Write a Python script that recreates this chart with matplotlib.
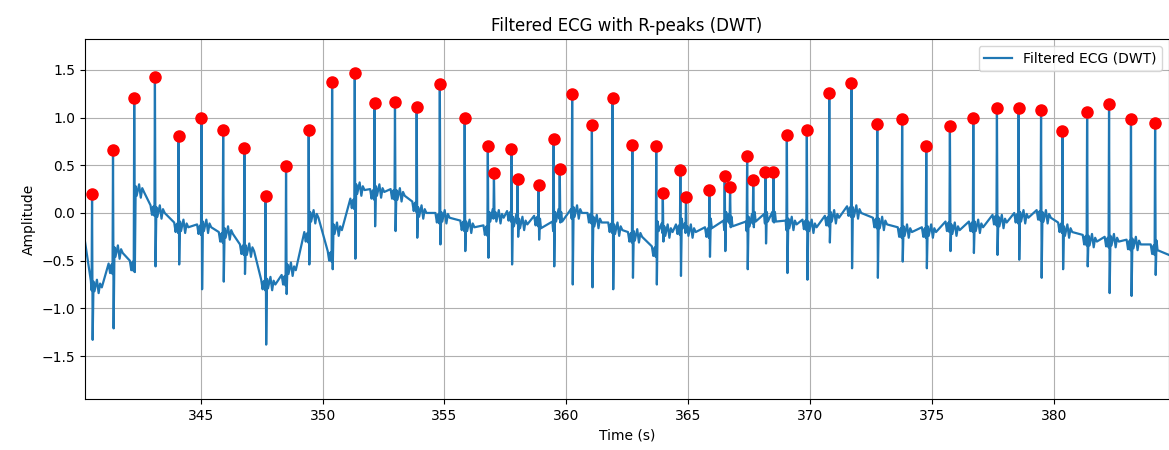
import numpy as np
import matplotlib
matplotlib.use("Agg")
import matplotlib.pyplot as plt

# R-peaks (time in s, amplitude)
r_time = [340.54, 341.40, 342.27, 343.12, 344.09, 345.03, 345.92, 346.79, 347.66, 348.50,
          349.43, 350.39, 351.32, 352.13, 352.97, 353.86, 354.81, 355.83, 356.78, 357.03,
          357.75, 358.00, 358.86, 359.48, 359.73, 360.24, 361.05, 361.90, 362.71, 363.69,
          363.96, 364.68, 364.91, 365.87, 366.50, 366.72, 367.42, 367.67, 368.17, 368.50,
          369.05, 369.87, 370.79, 371.70, 372.76, 373.78, 374.77, 375.74, 376.70, 377.67,
          378.56, 379.48, 380.36, 381.37, 382.27, 383.17, 384.16]
r_amp = [0.20, 0.66, 1.21, 1.43, 0.81, 1.00, 0.87, 0.68, 0.18, 0.49,
         0.87, 1.37, 1.47, 1.15, 1.16, 1.11, 1.35, 0.99, 0.70, 0.42,
         0.67, 0.36, 0.29, 0.77, 0.46, 1.25, 0.92, 1.20, 0.71, 0.70,
         0.21, 0.45, 0.17, 0.24, 0.39, 0.27, 0.60, 0.35, 0.43, 0.43,
         0.82, 0.87, 1.26, 1.36, 0.93, 0.98, 0.70, 0.91, 1.00, 1.10,
         1.10, 1.08, 0.86, 1.06, 1.14, 0.98, 0.94]
# S-wave trough right after each R
s_amp = [-1.33, -1.21, -0.62, -0.56, -0.54, -0.80, -0.72, -0.64, -1.38, -0.85,
         -0.54, -0.59, -0.48, -0.14, -0.19, -0.26, -0.33, -0.40, -0.47, -0.05,
         -0.54, -0.25, -0.28, -0.56, -0.10, -0.75, -0.78, -0.80, -0.68, -0.75,
         -0.30, -0.66, -0.20, -0.46, -0.40, -0.15, -0.59, -0.15, -0.32, -0.10,
         -0.63, -0.70, -0.31, -0.58, -0.68, -0.51, -0.58, -0.40, -0.42, -0.44,
         -0.49, -0.68, -0.59, -0.56, -0.84, -0.87, -0.65]
# baseline level just before / just after each beat
base_before = [-0.75, -0.58, -0.55, 0.03, -0.15, -0.17, -0.25, -0.38, -0.75, -0.70,
               -0.25, -0.45, 0.10, 0.20, 0.20, 0.07, -0.05, -0.13, -0.18, 0.00,
               -0.03, -0.05, -0.08, -0.13, 0.00, 0.00, -0.05, -0.15, -0.25, -0.40,
               -0.15, -0.17, -0.15, -0.20, -0.12, -0.05, -0.13, -0.05, -0.05, -0.03,
               -0.12, -0.12, -0.08, 0.02, -0.10, -0.20, -0.20, -0.14, -0.14, -0.07,
               -0.05, -0.02, -0.15, -0.28, -0.30, -0.33, -0.38]
base_after = [-0.78, -0.42, 0.22, 0.00, -0.15, -0.15, -0.22, -0.40, -0.75, -0.60,
              -0.05, -0.18, 0.24, 0.22, 0.18, 0.00, -0.05, -0.15, -0.05, -0.05,
              -0.10, -0.12, -0.12, -0.05, -0.05, 0.00, -0.10, -0.18, -0.25, -0.15,
              -0.20, -0.12, -0.20, -0.12, -0.05, -0.10, -0.10, -0.05, -0.05, -0.05,
              -0.12, -0.15, -0.05, 0.00, -0.12, -0.20, -0.20, -0.18, -0.15, -0.10,
              -0.05, -0.05, -0.20, -0.30, -0.30, -0.33, -0.35]
t_start, v_start = 340.25, -0.30
t_end, v_end = 384.73, -0.44

# small wave shape around each beat (offset in s, offset from baseline)
pre_wave = [(-0.18, 0.05), (-0.12, -0.05), (-0.08, 0.03)]
post_wave = [(0.2, 0.08), (0.27, -0.06), (0.33, 0.04), (0.4, 0.0)]

t = [t_start]
v = [v_start]
n = len(r_time)
for i in range(n):
    tr = r_time[i]
    b0, b1 = base_before[i], base_after[i]
    prev_gap = tr - (r_time[i - 1] if i > 0 else t_start)
    next_gap = (r_time[i + 1] if i + 1 < n else t_end) - tr
    if prev_gap > 0.7 and i > 0:
        for dt, dv in pre_wave:
            t.append(tr + dt)
            v.append(b0 + dv)
    t += [tr - 0.05, tr - 0.02, tr, tr + 0.025, tr + 0.06, tr + 0.1]
    v += [b0 + 0.04, b0 - 0.06, r_amp[i], s_amp[i], b1 + 0.06, b1 - 0.04]
    if next_gap > 0.7:
        for dt, dv in post_wave:
            t.append(tr + dt)
            v.append(b1 + dv)
t.append(t_end)
v.append(v_end)
t = np.array(t)
v = np.array(v)
order = np.argsort(t, kind="stable")
t, v = t[order], v[order]

fig = plt.figure(figsize=(11.69, 4.5), dpi=100)
ax = fig.add_axes([0.0727, 0.1133, 0.9273, 0.8])
ax.plot(t, v, color="#1f77b4", linewidth=1.6, label="Filtered ECG (DWT)")
ax.plot(r_time, r_amp, "ro", markersize=8)

ax.set_xlim(340.25, 384.73)
ax.set_ylim(-1.95, 1.823)
ax.set_yticks([-1.5, -1.0, -0.5, 0.0, 0.5, 1.0, 1.5])
ax.set_title("Filtered ECG with R-peaks (DWT)", fontsize=12)
ax.set_xlabel("Time (s)")
ax.set_ylabel("Amplitude")
ax.grid(True)
ax.legend(loc="upper right")

plt.savefig("out.png", dpi=100)
